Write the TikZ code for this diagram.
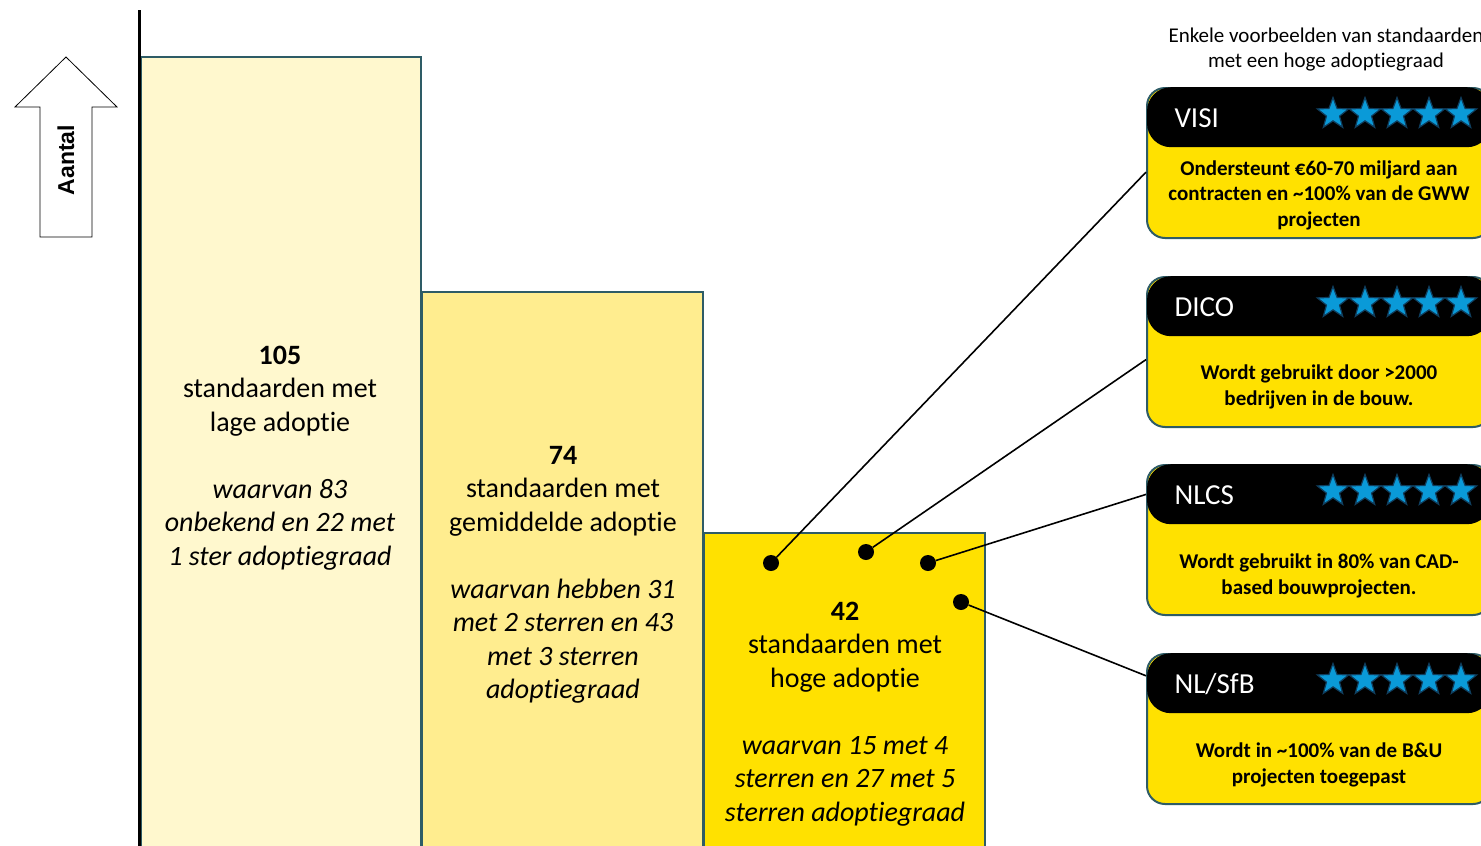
\documentclass[tikz,border=0pt]{standalone}
\usepackage{fontspec}
\setmainfont{Carlito}[Ligatures=NoCommon]
\newfontfamily\arialfont{Liberation Sans}
\usepackage{tikz}
\usetikzlibrary{shapes,calc}

\definecolor{lowfill}{HTML}{FFF8CE}
\definecolor{midfill}{HTML}{FFED8F}
\definecolor{highfill}{HTML}{FFE100}
\definecolor{edgeteal}{HTML}{2E5C66}
\definecolor{starblue}{HTML}{0A9AD8}
\definecolor{starnavy}{HTML}{0F3E5E}

\tikzset{
  bar/.style={draw=edgeteal,line width=1.2pt},
  bartext/.style={align=center,font=\fontsize{28}{33.5}\selectfont},
  dot/.style={circle,fill=black,minimum size=16pt,inner sep=0pt},
  card/.style={draw=edgeteal,line width=2pt,fill=highfill,rounded corners=18pt,minimum width=344pt,minimum height=150pt},
  cardhead/.style={fill=black,rounded corners=24pt,minimum width=344pt,minimum height=60pt},
  cardname/.style={text=white,font=\fontsize{29}{32}\selectfont,anchor=west},
  cardtext/.style={align=center,font=\bfseries\fontsize{21}{25.5}\selectfont},
  cardstar/.style={star,star points=5,star point ratio=2.4,fill=starblue,draw=starnavy,line width=1.2pt,minimum size=33pt,inner sep=0pt},
  link/.style={line width=1.6pt}
}

\begin{document}
\begin{tikzpicture}[x=1pt,y=-1pt]
    \clip (0,0) rectangle (1481,846);
    \fill[white] (0,0) rectangle (1481,846);

    % bars
    \draw[bar,fill=lowfill] (141,57) rectangle (421,860);
    \draw[bar,fill=midfill] (422,292) rectangle (703,860);
    \draw[bar,fill=highfill] (704,533) rectangle (985,860);
    \draw[line width=3pt] (139,10) -- (139,860);

    \node[bartext] (low) at (280,458) {{\bfseries 105}\\standaarden met\\lage adoptie\\[33.5pt]\itshape waarvan 83\\\itshape onbekend en 22 met\\\itshape 1 ster adoptiegraad};
    \node[bartext] (mid) at (563,575) {{\bfseries 74}\\standaarden met\\gemiddelde adoptie\\[33.5pt]\itshape waarvan hebben 31\\\itshape met 2 sterren en 43\\\itshape met 3 sterren\\\itshape adoptiegraad};
    \node[bartext] (high) at (845,714) {{\bfseries 42}\\standaarden met\\hoge adoptie\\[33.5pt]\itshape waarvan 15 met 4\\\itshape sterren en 27 met 5\\\itshape sterren adoptiegraad};

    % y-axis arrow
    \draw[line width=0.8pt,fill=white] (40,237) -- (40,107) -- (15,107) -- (66,57) -- (117,107) -- (92,107) -- (92,237) -- cycle;
    \node[rotate=90,font=\arialfont\bfseries\fontsize{23}{26}\selectfont] (aantal) at (66,160) {Aantal};

    \node[align=center,font=\fontsize{21}{25}\selectfont] (title) at (1326,50) {Enkele voorbeelden van standaarden\\met een hoge adoptiegraad};

    % cards
    \node[card] (visi) at (1319,163) {};
    \node[card] (dico) at (1319,352) {};
    \node[card] (nlcs) at (1319,540) {};
    \node[card] (nlsfb) at (1319,729) {};

    \foreach \c/\t in {visi/VISI,dico/DICO,nlcs/NLCS,nlsfb/{NL/SfB}} {
        \node[cardhead,anchor=north] (\c-head) at (\c.north) {};
        \node[cardname] at ($(\c.north west)+(25,31)$) {\t};
        \foreach \k in {0,...,4}
            \node[cardstar] at ($(\c.north west)+(187+32*\k,27)$) {};
    }

    \node[cardtext] at ($(visi.center)+(0,32)$) {Ondersteunt €60-70 miljard aan\\contracten en \textasciitilde100\% van de GWW\\projecten};
    \node[cardtext] at ($(dico.center)+(0,35)$) {Wordt gebruikt door >2000\\bedrijven in de bouw.};
    \node[cardtext] at ($(nlcs.center)+(0,36)$) {Wordt gebruikt in 80\% van CAD-\\based bouwprojecten.};
    \node[cardtext] at ($(nlsfb.center)+(0,36)$) {Wordt in \textasciitilde100\% van de B\&U\\projecten toegepast};

    % dots and links
    \node[dot] (d1) at (771,563) {};
    \node[dot] (d2) at (866,552) {};
    \node[dot] (d3) at (928,563) {};
    \node[dot] (d4) at (961,602) {};
    \draw[link] (d1) -- ($(visi.north west)!0.56!(visi.south west)$);
    \draw[link] (d2) -- ($(dico.north west)!0.55!(dico.south west)$);
    \draw[link] (d3) -- ($(nlcs.north west)!0.2!(nlcs.south west)$);
    \draw[link] (d4) -- ($(nlsfb.north west)!0.15!(nlsfb.south west)$);
\end{tikzpicture}
\end{document}
